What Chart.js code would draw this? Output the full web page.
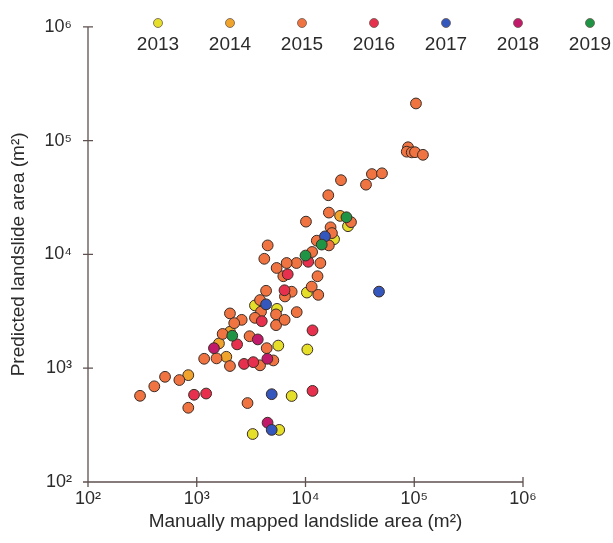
<!DOCTYPE html>
<html>
<head>
<meta charset="utf-8">
<script src="https://cdn.jsdelivr.net/npm/chart.js@4.4.0/dist/chart.umd.min.js"></script>
<style>
  body { margin: 0; background: #fff; }
  #wrap { width: 613px; height: 543px; }
</style>
</head>
<body>
<div id="wrap"><canvas id="myChart"></canvas></div>
<script>

// years shown in the legend
var years = ['2013', '2014', '2015', '2016', '2017', '2018', '2019'];

// manually mapped area (x) and predicted area (y), m2, per year
var mapped2013    = [10300, 3430, 5470, 5620, 10400, 7460, 5730, 3270, 24600, 18300];
var predicted2013 = [4620, 3560, 3320, 1580, 1460, 570, 287, 264, 17700, 13600];

var mapped2014    = [20800, 1600, 1870, 836, 2020];
var predicted2014 = [21800, 1650, 1260, 869, 2090];

var mapped2015    = [103700, 87700, 85300, 94800, 101600, 120200, 40800, 50500, 36000, 21200,
                     16200, 16400, 26200, 10100, 17000, 17500, 12700, 16400, 4490, 4180,
                     11500, 8260, 6710, 13700, 5430, 6250, 12900, 11400, 13100, 4340,
                     7460, 6470, 3820, 2020, 5360, 8300, 3900, 3430, 2590, 2210,
                     5360, 6430, 1730, 3060, 4400, 1170, 1520, 2020, 3820, 5060,
                     511, 692, 407, 301, 836, 2930];
var predicted2015 = [212000, 87400, 79900, 78800, 79100, 75000, 50800, 51600, 41000, 44900,
                     33100, 23300, 19200, 19400, 17300, 15400, 13200, 12000, 12000, 9150,
                     10500, 8400, 8400, 8400, 7600, 6430, 6430, 5210, 4410, 4790,
                     4700, 4270, 3970, 3030, 2970, 3110, 3140, 2770, 2660, 2490,
                     2390, 2660, 2000, 1910, 1500, 1210, 1220, 1045, 1060, 1170,
                     840, 787, 693, 572, 449, 494];

var mapped2016    = [10600, 6860, 6410, 3960, 11600, 2350, 2720, 3310, 944, 1220, 11600];
var predicted2016 = [8610, 6690, 4840, 2590, 2150, 1620, 1090, 1130, 584, 599, 632];

var mapped2017    = [15100, 4340, 4890, 4890, 47400];
var predicted2017 = [14400, 3640, 591, 287, 4710];

var mapped2018    = [1440, 3640, 4460, 4480];
var predicted2018 = [1500, 1790, 1210, 332];

var mapped2019    = [23800, 14100, 10000, 2120];
var predicted2019 = [21200, 12200, 9770, 1930];

var tickExp = [2, 3, 4, 5, 6];

var mappedAll = [mapped2013, mapped2014, mapped2015, mapped2016, mapped2017, mapped2018, mapped2019];
var predictedAll = [predicted2013, predicted2014, predicted2015, predicted2016, predicted2017, predicted2018, predicted2019];

var yearColors = ['#e6df2a', '#f1a42c', '#ef7442', '#e6304e', '#3457bd', '#c21a6b', '#1f9445'];
// draw order: 2013 at the bottom, 2019 on top
var drawOrder = [7, 6, 5, 4, 2, 3, 1];

var sup = { 2: '\u00b2', 3: '\u00b3', 4: '\u2074', 5: '\u2075', 6: '\u2076' };
var FONT = "'Liberation Sans', Arial, sans-serif";
var AXIS = '#5e5150';

function makeDatasets() {
  var out = [];
  for (var i = 0; i < years.length; i++) {
    var pts = [];
    for (var j = 0; j < mappedAll[i].length; j++) {
      pts.push({ x: mappedAll[i][j], y: predictedAll[i][j] });
    }
    out.push({
      label: years[i],
      data: pts,
      order: drawOrder[i],
      backgroundColor: yearColors[i],
      borderColor: '#3b2c25',
      borderWidth: 1,
      pointRadius: 5.4,
      pointHoverRadius: 5.4
    });
  }
  return out;
}

// axis lines with ticks crossing both sides
var axesPlugin = {
  id: 'axes',
  afterDatasetsDraw: function(chart) {
    var ctx = chart.ctx, a = chart.chartArea;
    var xs = chart.scales.x, ys = chart.scales.y;
    ctx.save();
    ctx.strokeStyle = AXIS;
    ctx.lineWidth = 1.3;
    ctx.beginPath();
    ctx.moveTo(a.left, a.top);
    ctx.lineTo(a.left, a.bottom);
    ctx.lineTo(a.right, a.bottom);
    tickExp.forEach(function(e) {
      var px = xs.getPixelForValue(Math.pow(10, e));
      ctx.moveTo(px, a.bottom - 5);
      ctx.lineTo(px, a.bottom + 5);
      var py = ys.getPixelForValue(Math.pow(10, e));
      ctx.moveTo(a.left - 5, py);
      ctx.lineTo(a.left + 5, py);
    });
    ctx.stroke();
    ctx.restore();
  }
};

// legend: dot above each year
var legendPlugin = {
  id: 'yearLegend',
  afterDraw: function(chart) {
    var ctx = chart.ctx;
    ctx.save();
    ctx.font = '19px ' + FONT;
    ctx.textAlign = 'center';
    ctx.textBaseline = 'middle';
    for (var i = 0; i < years.length; i++) {
      var cx = 158 + i * 72;
      ctx.beginPath();
      ctx.arc(cx, 23, 4.5, 0, Math.PI * 2);
      ctx.fillStyle = yearColors[i];
      ctx.fill();
      ctx.strokeStyle = '#6a5a50';
      ctx.lineWidth = 0.8;
      ctx.stroke();
      ctx.fillStyle = '#2b2b2b';
      ctx.fillText(years[i], cx, 45);
    }
    ctx.restore();
  }
};

function powerTicks(scale) {
  scale.ticks = tickExp.map(function(e) { return { value: Math.pow(10, e) }; });
}

function tickLabel(v) {
  var e = Math.round(Math.log10(v));
  return '10' + sup[e];
}

var ctx = document.getElementById('myChart').getContext('2d');

var chart = new Chart(ctx, {
  type: 'scatter',
  data: { datasets: makeDatasets() },
  options: {
    responsive: true,
    maintainAspectRatio: false,
    animation: false,
    layout: { padding: { top: 19, right: 90, bottom: 0, left: 0 } },
    plugins: { legend: { display: false }, tooltip: { enabled: false } },
    scales: {
      x: {
        type: 'logarithmic',
        min: 100,
        max: 1000000,
        afterBuildTicks: powerTicks,
        afterFit: function(s) { s.height = 61; },
        grid: { display: false, drawTicks: false },
        border: { display: false },
        ticks: { autoSkip: false, maxRotation: 0, padding: 6, color: '#2b2b2b',
                 font: { family: FONT, size: 18 }, callback: tickLabel },
        title: { display: true, text: 'Manually mapped landslide area (m\u00b2)', color: '#2b2b2b',
                 font: { family: FONT, size: 19 }, padding: { top: 0, bottom: 10 } }
      },
      y: {
        type: 'logarithmic',
        min: 100,
        max: 1000000,
        afterBuildTicks: powerTicks,
        afterFit: function(s) { s.width = 88; },
        grid: { display: false, drawTicks: false },
        border: { display: false },
        ticks: { autoSkip: false, padding: 16, color: '#2b2b2b',
                 font: { family: FONT, size: 18 }, callback: tickLabel },
        title: { display: true, text: 'Predicted landslide area (m\u00b2)', color: '#2b2b2b',
                 font: { family: FONT, size: 19 }, padding: { top: 7, bottom: 0 } }
      }
    }
  },
  plugins: [axesPlugin, legendPlugin]
});

</script>
</body>
</html>
